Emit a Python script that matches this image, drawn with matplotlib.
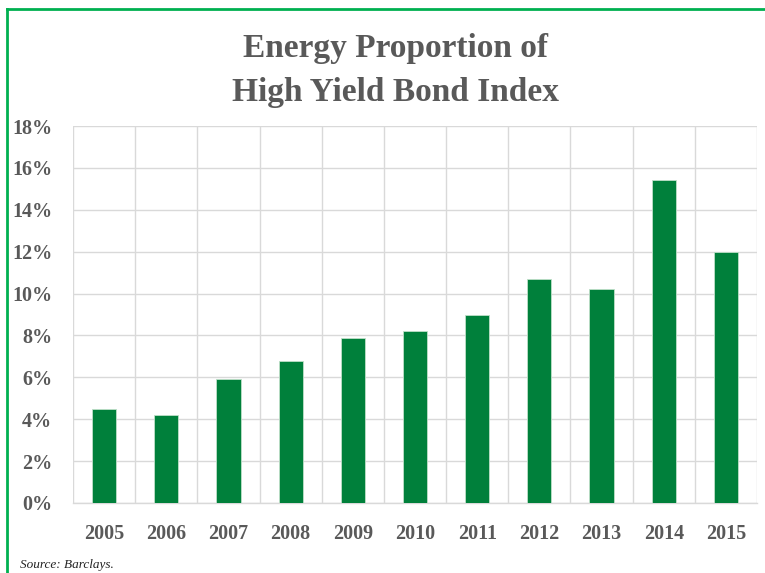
import matplotlib
matplotlib.use("Agg")
import matplotlib.pyplot as plt
from matplotlib.lines import Line2D

years = ["2005", "2006", "2007", "2008", "2009", "2010", "2011", "2012", "2013", "2014", "2015"]
values = [4.5, 4.2, 5.9, 6.8, 7.9, 8.2, 9.0, 10.7, 10.2, 15.4, 12.0]
yticks = [0, 2, 4, 6, 8, 10, 12, 14, 16, 18]
ytick_labels = [f"{v}%" for v in yticks]

W, H = 765, 573
fig = plt.figure(figsize=(W / 100, H / 100), dpi=100)
fig.patch.set_facecolor("white")

ax = fig.add_axes([73 / W, 1 - 503 / H, (757 - 73) / W, (503 - 126) / H])
x = list(range(len(years)))
ax.bar(x, values, width=0.39, color="#00803B", edgecolor="#bfe0c9", linewidth=0.6, zorder=3)
ax.set_xlim(-0.5, len(years) - 0.5)
ax.set_ylim(0, 18)

grid_c = "#d9d9d9"
ax.set_yticks(yticks)
ax.set_yticklabels(ytick_labels)
ax.set_xticks(x)
ax.set_xticklabels(years)
for xb in [i - 0.5 for i in range(len(years) + 1)]:
    ax.axvline(xb, color=grid_c, linewidth=1, zorder=1)
ax.grid(axis="y", color=grid_c, linewidth=1, zorder=1)
for s in ["top", "right", "left"]:
    ax.spines[s].set_visible(False)
ax.spines["bottom"].set_color(grid_c)
ax.spines["bottom"].set_linewidth(1)
ax.tick_params(axis="both", length=0, labelcolor="#595959")
ax.tick_params(axis="y", pad=15)
ax.tick_params(axis="x", pad=15)
for lab in ax.get_yticklabels() + ax.get_xticklabels():
    lab.set_fontfamily("Liberation Serif")
    lab.set_fontweight("bold")
    lab.set_fontsize(14.5)

fig.text(395 / W, 1 - 48 / H, "Energy Proportion of", ha="center", va="center",
         fontfamily="Liberation Serif", fontweight="bold", fontsize=24, color="#595959")
fig.text(395 / W, 1 - 92 / H, "High Yield Bond Index", ha="center", va="center",
         fontfamily="Liberation Serif", fontweight="bold", fontsize=24, color="#595959")
fig.text(20 / W, 1 - 565 / H, "Source: Barclays.", ha="left", va="center",
         fontfamily="Liberation Serif", fontstyle="italic", fontsize=9.5, color="#222222")

border = "#00B050"
fig.add_artist(Line2D([7 / W, 1.0], [1 - 9 / H, 1 - 9 / H], color=border, linewidth=2, transform=fig.transFigure))
fig.add_artist(Line2D([7 / W, 7 / W], [0, 1 - 9 / H], color=border, linewidth=2, transform=fig.transFigure))

fig.savefig("out.png", dpi=100)
